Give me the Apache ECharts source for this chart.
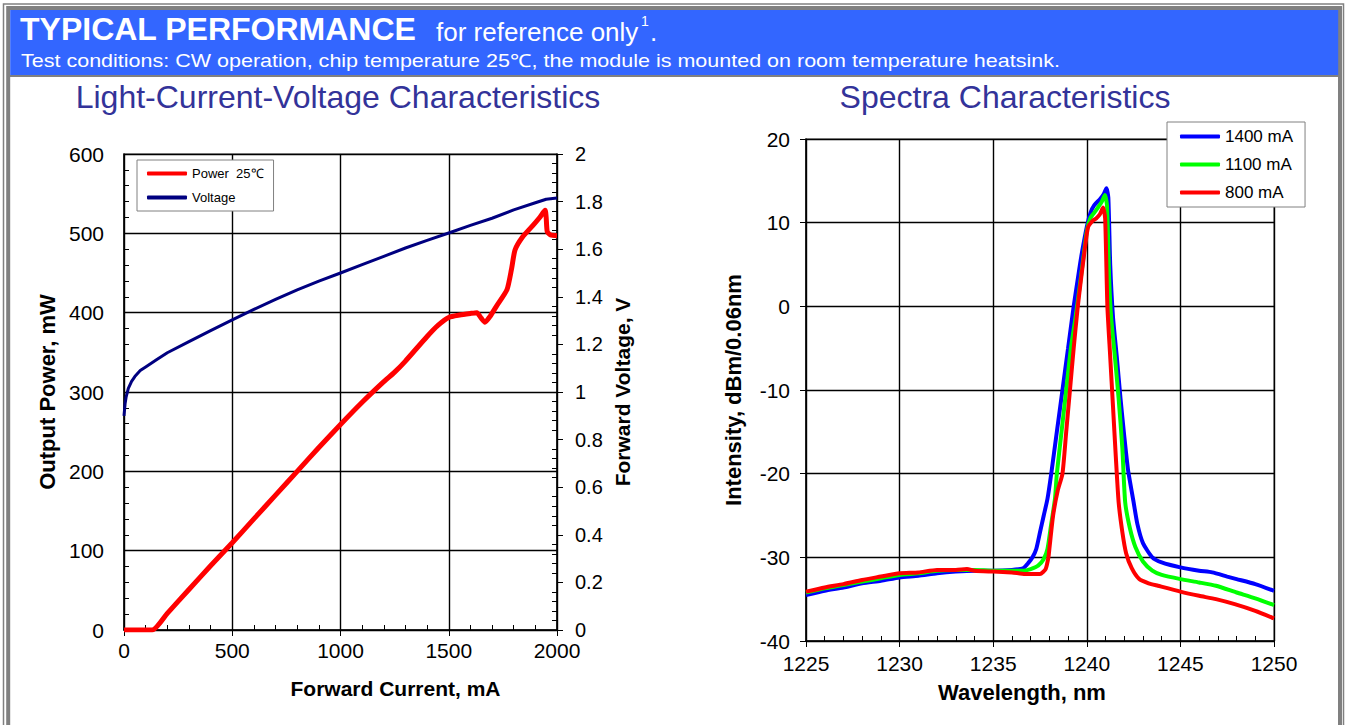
<!DOCTYPE html>
<html><head><meta charset="utf-8">
<script src="https://cdn.jsdelivr.net/npm/echarts@6/dist/echarts.min.js"></script>
<style>html,body{margin:0;padding:0;background:#fff}#c{width:1351px;height:725px}</style>
</head><body><div id="c"></div>
<script>
// ---- Light-Current-Voltage data ----
const powerCurrentMA = [0,130,200,300,400,500,600,700,800,900,1000,1100,1200,1250,1300,1400,1450,1500,1550,1600,1630,1650,1667,1690,1720,1769,1790,1806,1840,1889,1920,1945,1950,1955,1970,2000];
const powerMW        = [0,0,21,51,81,110,140,170,200,230,259,287,313,325,339,370,384,394,397,399,400,393,388,395,408,429,455,479,495,510,520,529,520,502,498,497];
const voltCurrentMA  = [0,5,10,20,35,50,75,100,150,200,300,400,500,600,700,800,900,1000,1100,1200,1300,1400,1500,1600,1700,1800,1900,1950,2000];
const voltageV       = [0.90,0.95,0.98,1.015,1.045,1.065,1.09,1.105,1.135,1.165,1.212,1.258,1.303,1.347,1.389,1.429,1.466,1.50,1.535,1.57,1.605,1.637,1.668,1.70,1.73,1.765,1.795,1.81,1.815];
const livXTicks = [0,500,1000,1500,2000];

// ---- Spectra data ----
const wl1400  = [1225,1226,1227,1228,1229,1230,1231,1232,1233,1234,1235,1236,1236.6,1236.9,1237.1,1237.3,1237.5,1237.7,1237.9,1238.1,1238.4,1238.7,1239.0,1239.3,1239.5,1239.7,1240.0,1240.2,1240.4,1240.7,1240.9,1241.05,1241.15,1241.25,1241.4,1241.6,1241.8,1242.0,1242.2,1242.5,1242.7,1243.0,1243.5,1244,1245,1246,1246.7,1247.5,1248,1249,1250];
const int1400 = [-34.5,-34.0,-33.6,-33.1,-32.8,-32.4,-32.2,-31.9,-31.7,-31.6,-31.6,-31.5,-31.3,-30.6,-30.0,-29.0,-27.0,-25.0,-23.0,-20,-15,-10,-5,0,3,5.9,9.5,11.2,12.1,12.8,13.4,14.1,13.0,5,-1.3,-6,-11,-15.5,-19.5,-23.4,-26,-28.3,-30.0,-30.6,-31.2,-31.6,-31.8,-32.3,-32.6,-33.2,-34.0];
const wl1100  = [1225,1226,1227,1228,1229,1230,1231,1232,1233,1234,1235,1236,1236.6,1237.0,1237.4,1237.7,1237.9,1238.1,1238.3,1238.4,1238.65,1238.9,1239.15,1239.4,1239.6,1239.8,1240.0,1240.2,1240.5,1240.8,1240.97,1241.08,1241.2,1241.3,1241.5,1241.7,1241.9,1242.05,1242.3,1242.6,1243.0,1243.5,1244,1245,1246,1246.9,1248,1249,1250];
const int1100 = [-34.2,-33.7,-33.3,-32.9,-32.5,-32.1,-31.9,-31.6,-31.5,-31.5,-31.6,-31.6,-31.6,-31.4,-31.0,-30.2,-29,-26,-23,-20,-15,-10,-5,-1.3,2,5.5,9,10.6,11.5,12.5,13.3,12.0,3,-1.3,-6,-11,-17,-23.4,-26.5,-28.8,-30.5,-31.6,-32.1,-32.6,-33.0,-33.4,-34.2,-34.9,-35.7];
const wl800   = [1225,1226,1227,1228,1229,1230,1231,1232,1233,1233.6,1234,1235,1236,1236.7,1237.5,1237.8,1237.95,1238.0,1238.2,1238.45,1238.7,1238.9,1239.1,1239.3,1239.5,1239.65,1239.8,1240.06,1240.3,1240.5,1240.7,1240.87,1240.98,1241.1,1241.25,1241.4,1241.55,1241.7,1241.9,1242.1,1242.4,1242.8,1243.3,1243.8,1245,1246,1246.9,1247.9,1249,1250];
const int800  = [-34.1,-33.6,-33.2,-32.7,-32.3,-31.9,-31.8,-31.5,-31.5,-31.4,-31.6,-31.7,-31.8,-32.0,-32.0,-31.4,-30.0,-29,-25,-22,-20,-15,-10,-5,-0.4,2.5,5.2,9.4,10.2,10.5,11.0,11.8,10.5,0,-6,-12,-18,-23.4,-27,-29.5,-31.3,-32.6,-33.1,-33.4,-34.1,-34.6,-35.0,-35.6,-36.4,-37.3];
const specXTicks = [1225,1230,1235,1240,1245,1250];

const zip = (a, b) => a.map((v, i) => [v, b[i]]);
const FONT = 'Arial, "Liberation Sans", sans-serif';
const black = '#000';
const gridLine = {show: true, lineStyle: {color: black, width: 1.4}};
const plain = v => String(v);

const chart = echarts.init(document.getElementById('c'), null, {renderer: 'svg'});
chart.setOption({
  animation: false,
  backgroundColor: '#fff',
  textStyle: {fontFamily: FONT},
  graphic: [
    {type: 'rect', shape: {x: 3.5, y: 4, width: 1340, height: 740}, style: {fill: 'none', stroke: '#808080', lineWidth: 1.5}, silent: true},
    {type: 'rect', shape: {x: 8.2, y: 7.9, width: 1331.8, height: 740}, style: {fill: 'none', stroke: '#808080', lineWidth: 4}, silent: true},
    {type: 'rect', shape: {x: 10.2, y: 9.9, width: 1328, height: 65.5}, style: {fill: '#3366FF'}, silent: true},
    {type: 'line', shape: {x1: 10, y1: 76, x2: 1338, y2: 76}, style: {stroke: '#808080', lineWidth: 2}, silent: true},
    {type: 'text', x: 20, y: 29, style: {text: 'TYPICAL PERFORMANCE', fill: '#fff', font: 'bold 32px ' + FONT, verticalAlign: 'middle'}},
    {type: 'text', x: 436, y: 32, style: {text: 'for reference only', fill: '#fff', font: '26px ' + FONT, verticalAlign: 'middle'}},
    {type: 'text', x: 641, y: 21, style: {text: '1', fill: '#fff', font: '14px ' + FONT, verticalAlign: 'middle'}},
    {type: 'text', x: 650, y: 32, style: {text: '.', fill: '#fff', font: '26px ' + FONT, verticalAlign: 'middle'}},
    {type: 'text', x: 21, y: 61, scaleX: 1.195, style: {text: 'Test conditions: CW operation, chip temperature 25℃, the module is mounted on room temperature heatsink.', fill: '#fff', font: '18px ' + FONT, verticalAlign: 'middle'}},
    {type: 'text', x: 338, y: 97, style: {text: 'Light-Current-Voltage Characteristics', fill: '#333399', font: '32px ' + FONT, align: 'center', verticalAlign: 'middle'}},
    {type: 'text', x: 1005, y: 97, style: {text: 'Spectra Characteristics', fill: '#333399', font: '32px ' + FONT, align: 'center', verticalAlign: 'middle'}}
  ],
  grid: [
    {left: 124, top: 154, width: 433, height: 476, show: true, borderColor: '#808080', borderWidth: 1.5, backgroundColor: 'transparent'},
    {left: 806, top: 139, width: 468, height: 502, show: true, borderColor: '#808080', borderWidth: 1.5, backgroundColor: 'transparent'}
  ],
  legend: [
    {
      data: ['Power  25℃', 'Voltage'], orient: 'vertical', left: 137, top: 160,
      padding: [7, 10, 7, 10], itemGap: 11, itemWidth: 40, itemHeight: 4, icon: 'roundRect',
      backgroundColor: '#fff', borderColor: '#808080', borderWidth: 1, borderRadius: 0,
      textStyle: {fontSize: 13, color: black, fontFamily: FONT}, selectedMode: false
    },
    {
      data: ['1400 mA', '1100 mA', '800 mA'], orient: 'vertical', left: 1167, top: 122,
      padding: [6, 12, 6, 13], itemGap: 11, itemWidth: 40, itemHeight: 4, icon: 'roundRect',
      backgroundColor: '#fff', borderColor: '#808080', borderWidth: 1, borderRadius: 0,
      textStyle: {fontSize: 17, color: black, fontFamily: FONT}, selectedMode: false
    }
  ],
  xAxis: [
    {
      gridIndex: 0, type: 'value', min: livXTicks[0], max: livXTicks[livXTicks.length - 1], interval: 500,
      name: 'Forward Current, mA', nameLocation: 'middle', nameGap: 48,
      nameTextStyle: {fontSize: 21, fontWeight: 'bold', color: black, fontFamily: FONT, padding: [0, 0, 0, 110]},
      axisLine: {show: true, onZero: false, lineStyle: {color: black, width: 1.5}},
      axisTick: {show: true, inside: false, length: 6, lineStyle: {color: black}},
      minorTick: {show: true, splitNumber: 5, length: -5, lineStyle: {color: black}},
      axisLabel: {fontSize: 21, color: black, margin: 10, fontFamily: FONT, formatter: plain},
      splitLine: gridLine
    },
    {
      gridIndex: 1, type: 'value', min: specXTicks[0], max: specXTicks[specXTicks.length - 1], interval: 5,
      name: 'Wavelength, nm', nameLocation: 'middle', nameGap: 40,
      nameTextStyle: {fontSize: 22, fontWeight: 'bold', color: black, fontFamily: FONT, padding: [0, 36, 0, 0]},
      axisLine: {show: true, onZero: false, lineStyle: {color: black, width: 1.5}},
      axisTick: {show: true, inside: false, length: 6, lineStyle: {color: black}},
      minorTick: {show: true, splitNumber: 5, length: -5, lineStyle: {color: black}},
      axisLabel: {fontSize: 21, color: black, margin: 12, fontFamily: FONT, formatter: plain},
      splitLine: gridLine
    }
  ],
  yAxis: [
    {
      gridIndex: 0, type: 'value', min: 0, max: 600, interval: 100, position: 'left',
      name: 'Output Power, mW', nameLocation: 'middle', nameGap: 66, nameRotate: 90,
      nameTextStyle: {fontSize: 22, fontWeight: 'bold', color: black, fontFamily: FONT},
      axisLine: {show: true, onZero: false, lineStyle: {color: black, width: 1.5}},
      axisTick: {show: true, inside: true, length: 5, lineStyle: {color: black}},
      minorTick: {show: true, splitNumber: 5, length: 5, lineStyle: {color: black}},
      axisLabel: {fontSize: 21, color: black, margin: 20, fontFamily: FONT},
      splitLine: gridLine
    },
    {
      gridIndex: 0, type: 'value', min: 0, max: 2, interval: 0.2, position: 'right',
      name: 'Forward Voltage, V', nameLocation: 'middle', nameGap: 55, nameRotate: 90,
      nameTextStyle: {fontSize: 21, fontWeight: 'bold', color: black, fontFamily: FONT},
      axisLine: {show: true, onZero: false, lineStyle: {color: black, width: 1.5}},
      axisTick: {show: true, inside: false, length: 6, lineStyle: {color: black}},
      minorTick: {show: true, splitNumber: 5, length: -5, lineStyle: {color: black}},
      axisLabel: {fontSize: 20, color: black, margin: 18, fontFamily: FONT},
      splitLine: {show: false}
    },
    {
      gridIndex: 1, type: 'value', min: -40, max: 20, interval: 10,
      name: 'Intensity, dBm/0.06nm', nameLocation: 'middle', nameGap: 62, nameRotate: 90,
      nameTextStyle: {fontSize: 22, fontWeight: 'bold', color: black, fontFamily: FONT},
      axisLine: {show: true, onZero: false, lineStyle: {color: black, width: 1.5}},
      axisTick: {show: true, inside: false, length: 6, lineStyle: {color: black}},
      axisLabel: {fontSize: 21, color: black, margin: 16, fontFamily: FONT},
      splitLine: gridLine
    }
  ],
  series: [
    {name: 'Voltage', type: 'line', xAxisIndex: 0, yAxisIndex: 1, data: zip(voltCurrentMA, voltageV), showSymbol: false, smooth: false,
     itemStyle: {color: '#000080'}, lineStyle: {color: '#000080', width: 3, join: 'round'}},
    {name: 'Power  25℃', type: 'line', xAxisIndex: 0, yAxisIndex: 0, data: zip(powerCurrentMA, powerMW), showSymbol: false, smooth: 0.2,
     itemStyle: {color: '#FF0000'}, lineStyle: {color: '#FF0000', width: 5}},
    {name: '1400 mA', type: 'line', xAxisIndex: 1, yAxisIndex: 2, data: zip(wl1400, int1400), showSymbol: false, smooth: 0.2,
     itemStyle: {color: '#0000FF'}, lineStyle: {color: '#0000FF', width: 4}},
    {name: '1100 mA', type: 'line', xAxisIndex: 1, yAxisIndex: 2, data: zip(wl1100, int1100), showSymbol: false, smooth: 0.2,
     itemStyle: {color: '#00FF00'}, lineStyle: {color: '#00FF00', width: 4}},
    {name: '800 mA', type: 'line', xAxisIndex: 1, yAxisIndex: 2, data: zip(wl800, int800), showSymbol: false, smooth: 0.2,
     itemStyle: {color: '#FF0000'}, lineStyle: {color: '#FF0000', width: 4}}
  ]
});
</script>
</body></html>
